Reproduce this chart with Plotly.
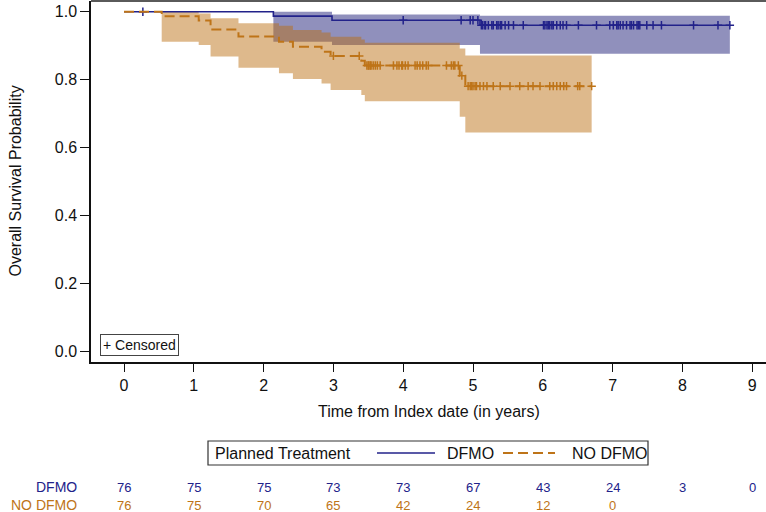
import numpy as np
import plotly.graph_objects as go

# ---------------- data ----------------
groups = ["DFMO", "NO DFMO"]

# Kaplan-Meier step curves (time in years, survival probability)
dfmo_t = [0, 2.14, 2.98, 5.10, 8.68]
dfmo_s = [1.0, 0.987, 0.975, 0.960, 0.960]
nodfmo_t = [0, 0.54, 1.07, 1.24, 1.64, 2.22, 2.42, 2.83, 2.96, 3.40, 3.45, 4.81, 4.89, 6.70]
nodfmo_s = [1.0, 0.987, 0.974, 0.948, 0.927, 0.912, 0.897, 0.882, 0.870, 0.856, 0.842, 0.812, 0.781, 0.781]

# confidence bands (step)
dfmo_band_t = [2.14, 2.98, 5.10, 8.68]
dfmo_band_lo = [0.912, 0.902, 0.876, 0.876]
dfmo_band_hi = [1.000, 0.992, 0.988, 0.988]
nodfmo_band_t = [0.54, 1.07, 1.24, 1.64, 2.22, 2.42, 2.83, 2.96, 3.40, 3.45, 4.81, 4.89, 6.70]
nodfmo_band_lo = [0.912, 0.902, 0.868, 0.835, 0.819, 0.802, 0.789, 0.770, 0.755, 0.737, 0.691, 0.645, 0.645]
nodfmo_band_hi = [1.000, 0.995, 0.981, 0.966, 0.959, 0.946, 0.939, 0.926, 0.918, 0.909, 0.892, 0.871, 0.871]

# censoring times
dfmo_cens = [0.27, 4.00, 4.83, 4.96, 5.00, 5.07, 5.12, 5.14, 5.17, 5.18, 5.22, 5.27, 5.29,
             5.34, 5.36, 5.39, 5.41, 5.46, 5.51, 5.58, 5.72, 6.01, 6.03, 6.06, 6.08, 6.10,
             6.13, 6.15, 6.20, 6.25, 6.29, 6.34, 6.51, 6.77, 6.96, 7.01, 7.06, 7.08, 7.11,
             7.15, 7.20, 7.25, 7.27, 7.30, 7.35, 7.37, 7.39, 7.49, 7.58, 7.70, 8.16, 8.51, 8.68]
nodfmo_cens = [3.00, 3.37, 3.48, 3.50, 3.51, 3.53, 3.54, 3.57, 3.60, 3.63, 3.67, 3.86, 3.91,
               3.94, 3.98, 3.99, 4.03, 4.07, 4.17, 4.20, 4.24, 4.28, 4.33, 4.36, 4.62, 4.69,
               4.72, 4.74, 4.79, 4.84, 4.93, 4.96, 4.98, 5.00, 5.03, 5.05, 5.10, 5.15, 5.20,
               5.29, 5.39, 5.53, 5.67, 5.79, 5.86, 5.96, 6.10, 6.15, 6.20, 6.25, 6.30, 6.34,
               6.50, 6.53, 6.70]

# numbers at risk
risk_times = [0, 1, 2, 3, 4, 5, 6, 7, 8, 9]
dfmo_risk = [76, 75, 75, 73, 73, 67, 43, 24, 3, 0]
nodfmo_risk = [76, 75, 70, 65, 42, 24, 12, 0]

x_ticks = [0, 1, 2, 3, 4, 5, 6, 7, 8, 9]
y_ticks = [0.0, 0.2, 0.4, 0.6, 0.8, 1.0]

# ---------------- styles ----------------
BLUE = "#22228A"
ORANGE = "#BE7418"
BLUE_FILL = "rgba(24,24,115,0.48)"
ORANGE_FILL = "rgba(186,109,15,0.48)"
FONT = "Liberation Sans, Arial, sans-serif"


def step_lookup(ts, ss, q):
    idx = np.searchsorted(np.asarray(ts), np.asarray(q), side="right") - 1
    return np.asarray(ss)[idx]


fig = go.Figure()

# bands: blue first, orange on top
fig.add_trace(go.Scatter(x=dfmo_band_t, y=dfmo_band_lo, mode="lines", line=dict(width=0, shape="hv"),
                         hoverinfo="skip", showlegend=False))
fig.add_trace(go.Scatter(x=dfmo_band_t, y=dfmo_band_hi, mode="lines", line=dict(width=0, shape="hv"),
                         fill="tonexty", fillcolor=BLUE_FILL, hoverinfo="skip", showlegend=False))
fig.add_trace(go.Scatter(x=nodfmo_band_t, y=nodfmo_band_lo, mode="lines", line=dict(width=0, shape="hv"),
                         hoverinfo="skip", showlegend=False))
fig.add_trace(go.Scatter(x=nodfmo_band_t, y=nodfmo_band_hi, mode="lines", line=dict(width=0, shape="hv"),
                         fill="tonexty", fillcolor=ORANGE_FILL, hoverinfo="skip", showlegend=False))

# survival curves
fig.add_trace(go.Scatter(x=dfmo_t, y=dfmo_s, mode="lines", name=groups[0],
                         line=dict(color=BLUE, width=1.6, shape="hv"), showlegend=False))
fig.add_trace(go.Scatter(x=dfmo_cens, y=step_lookup(dfmo_t, dfmo_s, dfmo_cens), mode="markers",
                         marker=dict(symbol="cross-thin", size=6, line=dict(color=BLUE, width=1.5)),
                         showlegend=False))
fig.add_trace(go.Scatter(x=nodfmo_t, y=nodfmo_s, mode="lines", name=groups[1],
                         line=dict(color=ORANGE, width=2, shape="hv", dash="10px,5px"), showlegend=False))
fig.add_trace(go.Scatter(x=nodfmo_cens, y=step_lookup(nodfmo_t, nodfmo_s, nodfmo_cens), mode="markers",
                         marker=dict(symbol="cross-thin", size=6, line=dict(color=ORANGE, width=1.5)),
                         showlegend=False))

# ---------------- layout ----------------
W, H = 766, 512
ML, MR, MT, MB = 91, 0, 1, 150
PW, PH = W - ML - MR, H - MT - MB


def px_x(p):
    return (p - ML) / PW


def px_y(p):
    return (H - MB - p) / PH


annotations = []
# axis titles
annotations.append(dict(text="Time from Index date (in years)", xref="paper", yref="paper",
                        x=0.5, y=px_y(411), xanchor="center", yanchor="middle", showarrow=False,
                        font=dict(size=16, color="#111", family=FONT)))
annotations.append(dict(text="Overall Survival Probability", xref="paper", yref="paper",
                        x=px_x(15), y=0.5, xanchor="center", yanchor="middle", textangle=-90,
                        showarrow=False, font=dict(size=16, color="#111", family=FONT)))
# censored box
annotations.append(dict(text="+ Censored", xref="paper", yref="paper", x=px_x(139), y=px_y(344.5),
                        xanchor="center", yanchor="middle", showarrow=False, bgcolor="white",
                        bordercolor="#444", borderwidth=1, borderpad=2,
                        font=dict(size=14, color="#111", family=FONT)))
# legend texts
ly = px_y(453)
annotations.append(dict(text="Planned Treatment", xref="paper", yref="paper", x=px_x(213), y=ly,
                        xanchor="left", yanchor="middle", showarrow=False,
                        font=dict(size=16, color="#111", family=FONT)))
annotations.append(dict(text=groups[0], xref="paper", yref="paper", x=px_x(445), y=ly,
                        xanchor="left", yanchor="middle", showarrow=False,
                        font=dict(size=16, color="#111", family=FONT)))
annotations.append(dict(text=groups[1], xref="paper", yref="paper", x=px_x(570), y=ly,
                        xanchor="left", yanchor="middle", showarrow=False,
                        font=dict(size=16, color="#111", family=FONT)))
# at-risk table
row_y = [px_y(487), px_y(505)]
row_col = [BLUE, ORANGE]
for g, yy, cc in zip(groups, row_y, row_col):
    annotations.append(dict(text=g, xref="paper", yref="paper", x=px_x(79), y=yy,
                            xanchor="right", yanchor="middle", showarrow=False,
                            font=dict(size=14, color=cc, family=FONT)))
for t, n in zip(risk_times, dfmo_risk):
    annotations.append(dict(text=str(n), xref="x", yref="paper", x=t, y=row_y[0],
                            xanchor="center", yanchor="middle", showarrow=False,
                            font=dict(size=13, color=BLUE, family=FONT)))
for t, n in zip(risk_times, nodfmo_risk):
    annotations.append(dict(text=str(n), xref="x", yref="paper", x=t, y=row_y[1],
                            xanchor="center", yanchor="middle", showarrow=False,
                            font=dict(size=13, color=ORANGE, family=FONT)))

shapes = [
    # top border
    dict(type="line", xref="paper", yref="paper", x0=0, x1=1, y0=1, y1=1,
         line=dict(color="#5a5a5a", width=2)),
    # legend box
    dict(type="rect", xref="paper", yref="paper", x0=px_x(208), x1=px_x(648),
         y0=px_y(441), y1=px_y(465), line=dict(color="#333", width=1.2), fillcolor="white"),
    dict(type="line", xref="paper", yref="paper", x0=px_x(377), x1=px_x(435), y0=ly, y1=ly,
         line=dict(color=BLUE, width=1.6)),
    dict(type="line", xref="paper", yref="paper", x0=px_x(503), x1=px_x(555), y0=ly, y1=ly,
         line=dict(color=ORANGE, width=2, dash="10px,5px")),
]

fig.update_layout(
    width=W, height=H,
    margin=dict(l=ML, r=MR, t=MT, b=MB),
    paper_bgcolor="white", plot_bgcolor="white",
    font=dict(family=FONT, size=16, color="#111"),
    showlegend=False,
    annotations=annotations,
    shapes=shapes,
    xaxis=dict(range=[-0.473, 9.198], tickvals=x_ticks, ticks="outside", ticklen=8,
               tickwidth=1.2, tickcolor="#111", showline=True, linecolor="#111", linewidth=1.5,
               showgrid=False, zeroline=False, tickfont=dict(size=16, color="#111", family=FONT)),
    yaxis=dict(range=[-0.0303, 1.0315], tickvals=y_ticks, tickformat=".1f", ticks="outside",
               ticklen=9, tickwidth=1.2, tickcolor="#111", showline=True, linecolor="#111",
               linewidth=1.5, showgrid=False, zeroline=False,
               tickfont=dict(size=16, color="#111", family=FONT)),
)

fig.write_html("out.html")
